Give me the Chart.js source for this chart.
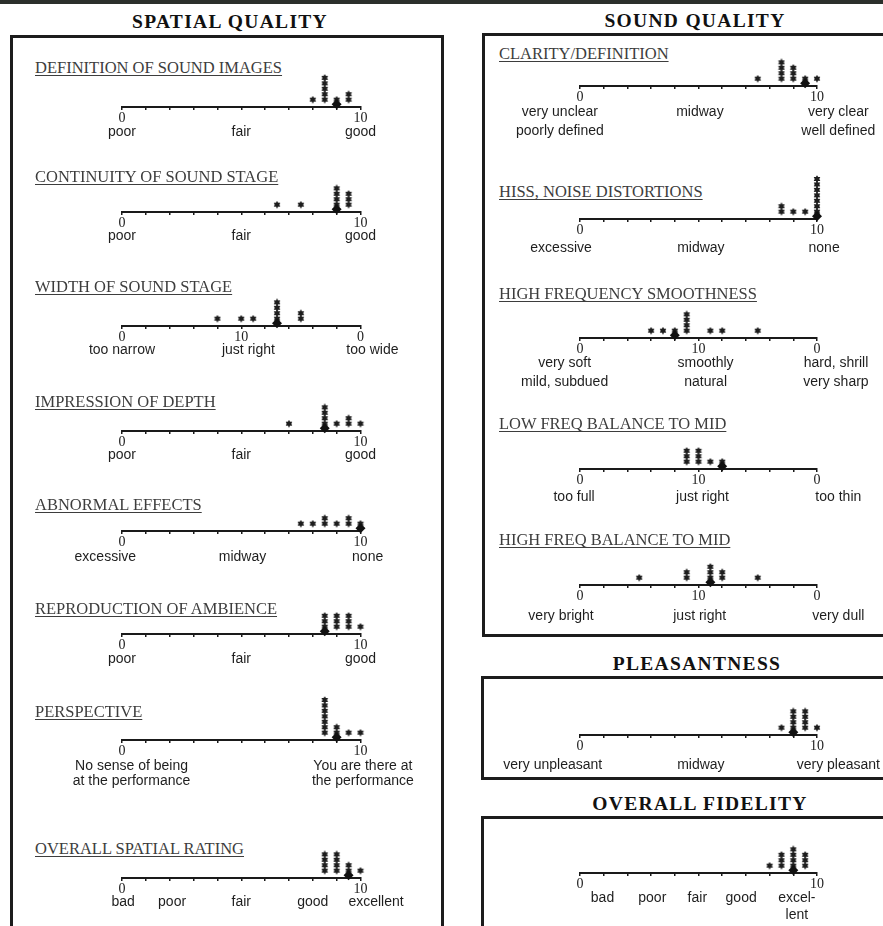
<!DOCTYPE html>
<html>
<head>
<meta charset="utf-8">
<title>Listening panel ratings</title>
<script src="https://cdn.jsdelivr.net/npm/chart.js@4.4.1/dist/chart.umd.min.js"></script>
<style>
  body { margin: 0; background: #fff; }
  #page { position: relative; width: 883px; height: 926px; overflow: hidden; background: #fff; }
  .bar { position: absolute; left: 0; top: 0; width: 883px; height: 4px; background: #2b2f2b; }
  .head { position: absolute; font: bold 19.5px/20px "Liberation Serif", "Times New Roman", serif;
          letter-spacing: 1.3px; color: #111; text-align: center; white-space: nowrap; }
  .box { position: absolute; border: 3px solid #1c1c1c; box-sizing: border-box; }
  .title { position: absolute; font: 16.5px/16.5px "Liberation Serif", "Times New Roman", serif;
           color: #3d3d3d; text-decoration: underline; text-decoration-thickness: 1px;
           text-underline-offset: 2px; white-space: nowrap; }
  canvas { position: absolute; }
</style>
</head>
<body>
<div id="page">
  <div class="bar"></div>
  <div class="head" style="left:80px;top:12px;width:300px">SPATIAL QUALITY</div>
  <div class="head" style="left:545px;top:11px;width:300px">SOUND QUALITY</div>
  <div class="head" style="left:547px;top:654px;width:300px">PLEASANTNESS</div>
  <div class="head" style="left:550px;top:794px;width:300px">OVERALL FIDELITY</div>
  <div class="box" style="left:10px;top:35px;width:434px;height:920px"></div>
  <div class="box" style="left:482px;top:33px;width:450px;height:604px"></div>
  <div class="box" style="left:481px;top:676px;width:450px;height:104px"></div>
  <div class="box" style="left:481px;top:816px;width:450px;height:200px"></div>
</div>
<script>
// ratings: positions (0-10), listeners at each, diamond position

// spatial quality
const definitionPos = [8, 8.5, 9, 9.5];
const definitionCount = [1, 5, 1, 2];
const definitionMark = 9;

const continuityPos = [6.5, 7.5, 9, 9.5];
const continuityCount = [1, 1, 4, 3];
const continuityMark = 9;

const widthPos = [4, 5, 5.5, 6.5, 7.5];
const widthCount = [1, 1, 1, 4, 2];
const widthMark = 6.5;

const depthPos = [7, 8.5, 9, 9.5, 10];
const depthCount = [1, 4, 1, 2, 1];
const depthMark = 8.5;

const abnormalPos = [7.5, 8, 8.5, 9, 9.5, 10];
const abnormalCount = [1, 1, 2, 1, 2, 1];
const abnormalMark = 10;

const ambiencePos = [8.5, 9, 9.5, 10];
const ambienceCount = [3, 3, 3, 1];
const ambienceMark = 8.5;

const perspectivePos = [8.5, 9, 9.5, 10];
const perspectiveCount = [7, 2, 1, 1];
const perspectiveMark = 9;

const spatialPos = [8.5, 9, 9.5, 10];
const spatialCount = [4, 4, 2, 1];
const spatialMark = 9.5;

// sound quality
const clarityPos = [7.5, 8.5, 9, 9.5, 10];
const clarityCount = [1, 4, 3, 1, 1];
const clarityMark = 9.5;

const hissPos = [8.5, 9, 9.5, 10];
const hissCount = [2, 1, 1, 7];
const hissMark = 10;

const smoothPos = [3, 3.5, 4, 4.5, 5.5, 6, 7.5];
const smoothCount = [1, 1, 1, 4, 1, 1, 1];
const smoothMark = 4;

const lowPos = [4.5, 5, 5.5, 6];
const lowCount = [3, 3, 1, 1];
const lowMark = 6;

const highPos = [2.5, 4.5, 5.5, 6, 7.5];
const highCount = [1, 2, 3, 2, 1];
const highMark = 5.5;

// pleasantness, overall fidelity
const pleasantPos = [8.5, 9, 9.5, 10];
const pleasantCount = [1, 4, 4, 1];
const pleasantMark = 9;

const fidelityPos = [8, 8.5, 9, 9.5];
const fidelityCount = [1, 3, 4, 3];
const fidelityMark = 9;

// tick labels
const scaleTicks = [0, 1, 2, 3, 4, 5, 6, 7, 8, 9, 10];
const numbersEnds = [[0, '0'], [10, '10']];
const numbersCentre = [[0, '0'], [5, '10'], [10, '0']];

const poorFairGood = [[0, ['poor']], [5, ['fair']], [10, ['good']]];
const widthWords = [[0, ['too narrow']], [5.3, ['just right']], [10.5, ['too wide']]];
const abnormalWords = [[-0.7, ['excessive']], [5.05, ['midway']], [10.3, ['none']]];
const perspectiveWords = [[0.4, ['No sense of being', 'at the performance']],
                          [10.1, ['You are there at', 'the performance']]];
const spatialWords = [[0.05, ['bad']], [2.1, ['poor']], [5, ['fair']], [8, ['good']], [10.65, ['excellent']]];
const clarityWords = [[-0.85, ['very unclear', 'poorly defined']], [5.06, ['midway']],
                      [10.9, ['very clear', 'well defined']]];
const hissWords = [[-0.8, ['excessive']], [5.1, ['midway']], [10.3, ['none']]];
const smoothWords = [[-0.65, ['very soft', 'mild, subdued']], [5.3, ['smoothly', 'natural']],
                     [10.8, ['hard, shrill', 'very sharp']]];
const lowWords = [[-0.25, ['too full']], [5.17, ['just right']], [10.9, ['too thin']]];
const highWords = [[-0.8, ['very bright']], [5.05, ['just right']], [10.9, ['very dull']]];
const pleasantWords = [[-1.15, ['very unpleasant']], [5.1, ['midway']], [10.9, ['very pleasant']]];
const fidelityWords = [[0.95, ['bad']], [3.05, ['poor']], [4.95, ['fair']], [6.8, ['good']],
                       [9.15, ['excel-', 'lent']]];

const panels = [
  { title: 'DEFINITION OF SOUND IMAGES', pos: definitionPos, count: definitionCount, mark: definitionMark,
    numbers: numbersEnds, words: poorFairGood, side: 'L', axisY: 107, titleY: 74, wordOff: 25, lineH: 17 },
  { title: 'CONTINUITY OF SOUND STAGE', pos: continuityPos, count: continuityCount, mark: continuityMark,
    numbers: numbersEnds, words: poorFairGood, side: 'L', axisY: 212, titleY: 183, wordOff: 24.5, lineH: 17 },
  { title: 'WIDTH OF SOUND STAGE', pos: widthPos, count: widthCount, mark: widthMark,
    numbers: numbersCentre, words: widthWords, side: 'L', axisY: 326, titleY: 293, wordOff: 24.5, lineH: 17 },
  { title: 'IMPRESSION OF DEPTH', pos: depthPos, count: depthCount, mark: depthMark,
    numbers: numbersEnds, words: poorFairGood, side: 'L', axisY: 431, titleY: 408, wordOff: 24.5, lineH: 17 },
  { title: 'ABNORMAL EFFECTS', pos: abnormalPos, count: abnormalCount, mark: abnormalMark,
    numbers: numbersEnds, words: abnormalWords, side: 'L', axisY: 531, titleY: 511, wordOff: 26, lineH: 17 },
  { title: 'REPRODUCTION OF AMBIENCE', pos: ambiencePos, count: ambienceCount, mark: ambienceMark,
    numbers: numbersEnds, words: poorFairGood, side: 'L', axisY: 634, titleY: 615, wordOff: 25, lineH: 17 },
  { title: 'PERSPECTIVE', pos: perspectivePos, count: perspectiveCount, mark: perspectiveMark,
    numbers: numbersEnds, words: perspectiveWords, side: 'L', axisY: 740, titleY: 718, wordOff: 26, lineH: 15 },
  { title: 'OVERALL SPATIAL RATING', pos: spatialPos, count: spatialCount, mark: spatialMark,
    numbers: numbersEnds, words: spatialWords, side: 'L', axisY: 878, titleY: 855, wordOff: 24.5, lineH: 17 },

  { title: 'CLARITY/DEFINITION', pos: clarityPos, count: clarityCount, mark: clarityMark,
    numbers: numbersEnds, words: clarityWords, side: 'R', axisY: 86, titleY: 60, wordOff: 26, lineH: 19 },
  { title: 'HISS, NOISE DISTORTIONS', pos: hissPos, count: hissCount, mark: hissMark,
    numbers: numbersEnds, words: hissWords, side: 'R', axisY: 219, titleY: 198, wordOff: 29, lineH: 17 },
  { title: 'HIGH FREQUENCY SMOOTHNESS', pos: smoothPos, count: smoothCount, mark: smoothMark,
    numbers: numbersCentre, words: smoothWords, side: 'R', axisY: 338, titleY: 300, wordOff: 25, lineH: 19 },
  { title: 'LOW FREQ BALANCE TO MID', pos: lowPos, count: lowCount, mark: lowMark,
    numbers: numbersCentre, words: lowWords, side: 'R', axisY: 469, titleY: 430, wordOff: 28, lineH: 17 },
  { title: 'HIGH FREQ BALANCE TO MID', pos: highPos, count: highCount, mark: highMark,
    numbers: numbersCentre, words: highWords, side: 'R', axisY: 585, titleY: 546, wordOff: 31, lineH: 17 },
  { title: '', pos: pleasantPos, count: pleasantCount, mark: pleasantMark,
    numbers: numbersEnds, words: pleasantWords, side: 'R', axisY: 735, titleY: 0, wordOff: 30, lineH: 17 },
  { title: '', pos: fidelityPos, count: fidelityCount, mark: fidelityMark,
    numbers: numbersEnds, words: fidelityWords, side: 'R', axisY: 873, titleY: 0, wordOff: 25, lineH: 17 }
];

const SERIF = "'Liberation Serif', 'Times New Roman', serif";
const SANS = "'Liberation Sans', Arial, sans-serif";
const AREA_H = 54;   // 9 stack levels of 6px above the axis line
const BELOW = 80;    // room for tick numbers and scale words
const NUM_BOX = 16;  // height kept by the number axis
const WORD_BOX = 52; // height kept by the word axis
const page = document.getElementById('page');

// small filled six-point star used for each listener
function starImage(color) {
  const c = document.createElement('canvas');
  c.width = 8;
  c.height = 8;
  const g = c.getContext('2d');
  g.fillStyle = color;
  g.beginPath();
  for (let i = 0; i < 12; i++) {
    const r = i % 2 ? 2.3 : 3.8;
    const a = (Math.PI / 6) * i - Math.PI / 2;
    g.lineTo(4 + r * Math.cos(a), 4 + r * Math.sin(a));
  }
  g.closePath();
  g.fill();
  return c;
}
const STAR = starImage('#1d1d1d');

function stackPoints(pos, count) {
  const pts = [];
  pos.forEach((p, i) => {
    for (let k = 1; k <= count[i]; k++) pts.push({ x: p, y: k + 0.35 });
  });
  return pts;
}

function buildChart(p) {
  const geo = p.side === 'L'
    ? { left: 14, width: 426, axisL: 122, axisR: 360.5 }
    : { left: 486, width: 397, axisL: 580, axisR: 817 };

  const cv = document.createElement('canvas');
  cv.width = geo.width;
  cv.height = AREA_H + BELOW;
  cv.style.left = geo.left + 'px';
  cv.style.top = (p.axisY - AREA_H) + 'px';
  page.appendChild(cv);

  const numPad = 1.5;                               // number centre ~11.5px under the axis
  const wordPad = p.wordOff - NUM_BOX - p.lineH / 2;

  new Chart(cv, {
    type: 'scatter',
    data: {
      datasets: [
        {
          data: [{ x: p.mark, y: 0.5 }],
          pointStyle: 'rectRot',
          pointRadius: 5,
          backgroundColor: '#111',
          borderColor: '#111',
          borderWidth: 0,
          clip: false
        },
        {
          data: stackPoints(p.pos, p.count),
          pointStyle: STAR,
          pointRadius: 3,
          clip: false
        }
      ]
    },
    options: {
      responsive: false,
      animation: false,
      events: [],
      layout: {
        padding: {
          left: geo.axisL - geo.left,
          right: geo.left + geo.width - geo.axisR,
          top: 0,
          bottom: BELOW - NUM_BOX - WORD_BOX
        }
      },
      plugins: { legend: { display: false }, tooltip: { enabled: false } },
      scales: {
        y: { display: false, min: 0, max: 9 },
        x: {
          type: 'linear',
          position: 'bottom',
          min: 0,
          max: 10,
          weight: 0,
          border: { display: true, color: '#1a1a1a', width: 2 },
          grid: { display: true, drawOnChartArea: false, drawTicks: true, tickLength: 3,
                  color: '#1a1a1a', lineWidth: 1.5 },
          afterBuildTicks: (s) => { s.ticks = scaleTicks.map((v) => ({ value: v })); },
          afterFit: (s) => { s.height = NUM_BOX; },
          ticks: {
            autoSkip: false, maxRotation: 0, minRotation: 0, padding: numPad, color: '#222',
            font: { family: SERIF, size: 14, lineHeight: 1 },
            callback: (v) => {
              const n = p.numbers.find((d) => d[0] === v);
              return n ? n[1] : '';
            }
          }
        },
        x2: {
          type: 'linear',
          axis: 'x',
          position: 'bottom',
          min: 0,
          max: 10,
          weight: 1,
          border: { display: false },
          grid: { display: false, drawTicks: false, tickLength: 0 },
          afterBuildTicks: (s) => { s.ticks = p.words.map((w) => ({ value: w[0] })); },
          afterFit: (s) => { s.height = WORD_BOX; },
          ticks: {
            autoSkip: false, maxRotation: 0, minRotation: 0, padding: wordPad, color: '#1e1e1e',
            font: { family: SANS, size: 14, lineHeight: p.lineH / 14 },
            callback: (v, i) => p.words[i][1]
          }
        }
      }
    }
  });
}

panels.forEach((p) => {
  if (p.title) {
    const t = document.createElement('div');
    t.className = 'title';
    t.textContent = p.title;
    t.style.left = (p.side === 'L' ? 35 : 499) + 'px';
    t.style.top = (p.titleY - 13.8) + 'px';
    page.appendChild(t);
  }
  buildChart(p);
});
</script>
</body>
</html>
